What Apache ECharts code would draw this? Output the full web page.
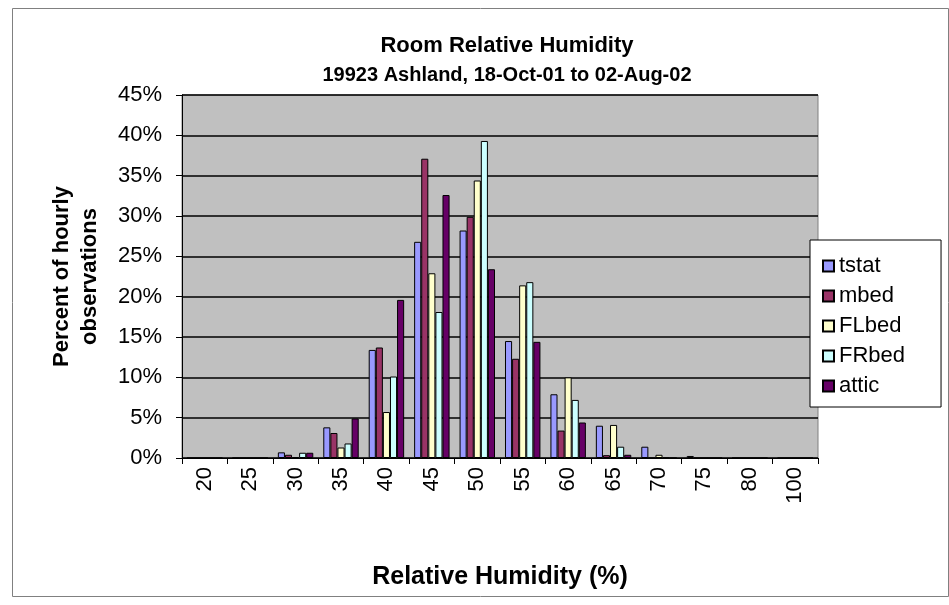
<!DOCTYPE html>
<html>
<head>
<meta charset="utf-8">
<script src="https://cdn.jsdelivr.net/npm/echarts@6/dist/echarts.min.js"></script>
<style>
html,body{margin:0;padding:0;background:#fff;}
#c{width:949px;height:605px;}
</style>
</head>
<body>
<div id="c"></div>
<script>
const categories = ['20','25','30','35','40','45','50','55','60','65','70','75','80','100'];
const tstat = [0,0,0.7,3.8,13.4,26.8,28.2,14.5,7.9,4.0,1.4,0.25,0,0];
const mbed  = [0,0,0.4,3.1,13.7,37.1,29.9,12.3,3.4,0.35,0,0,0,0];
const FLbed = [0,0,0.1,1.3,5.7,22.9,34.4,21.4,10.0,4.1,0.4,0,0,0];
const FRbed = [0,0,0.65,1.8,10.1,18.1,39.3,21.8,7.2,1.4,0.05,0,0,0];
const attic = [0,0,0.65,4.9,19.6,32.6,23.4,14.4,4.4,0.4,0,0,0,0];
const seriesNames = ['tstat','mbed','FLbed','FRbed','attic'];
const seriesData = [tstat, mbed, FLbed, FRbed, attic];
const colors = ['#9999FF','#993366','#FFFFCC','#CCFFFF','#660066'];

const FONT = 'Liberation Sans, Arial, sans-serif';
const chart = echarts.init(document.getElementById('c'), null, {renderer:'canvas'});
chart.setOption({
  animation:false,
  backgroundColor:'#ffffff',
  graphic:[{
    type:'rect', shape:{x:12.5,y:8.5,width:936,height:588},
    style:{fill:'none',stroke:'#808080',lineWidth:1}, z:-1
  }],
  title:{
    text:'Room Relative Humidity',
    subtext:'19923 Ashland, 18-Oct-01 to 02-Aug-02',
    left:502, top:30, textAlign:'center', itemGap:8,
    textStyle:{fontFamily:FONT,fontSize:22,fontWeight:'bold',color:'#000'},
    subtextStyle:{fontFamily:FONT,fontSize:20,fontWeight:'bold',color:'#000'}
  },
  legend:{
    orient:'vertical', left:810, top:240,
    padding:[15,36,10,12], itemGap:8,
    backgroundColor:'#fff', borderColor:'#000', borderWidth:1,
    itemWidth:11, itemHeight:11, icon:'rect',
    textStyle:{fontFamily:FONT,fontSize:22,lineHeight:22,color:'#000'},
    data:seriesNames
  },
  grid:{left:182,right:131,top:95,bottom:147,show:true,backgroundColor:'#C0C0C0',borderColor:'#808080',borderWidth:1},
  xAxis:{
    type:'category', data:categories,
    name:'Relative Humidity (%)', nameLocation:'middle', nameGap:107,
    nameTextStyle:{fontFamily:FONT,fontSize:25,fontWeight:'bold',color:'#000'},
    axisLine:{lineStyle:{color:'#000',width:1}},
    axisTick:{show:true,length:6,lineStyle:{color:'#000'},alignWithLabel:false},
    axisLabel:{rotate:90,fontFamily:FONT,fontSize:22,color:'#000',margin:9},
    splitLine:{show:false}
  },
  yAxis:{
    type:'value', min:0, max:45, interval:5,
    name:'Percent of hourly\nobservations', nameLocation:'middle', nameGap:78,
    nameTextStyle:{fontFamily:FONT,fontSize:22,fontWeight:'bold',color:'#000',lineHeight:28},
    axisLine:{show:true,lineStyle:{color:'#000',width:1}},
    axisTick:{show:true,length:6,lineStyle:{color:'#000'}},
    axisLabel:{fontFamily:FONT,fontSize:22,color:'#000',margin:20,formatter:v=>v+'%'},
    splitLine:{show:true,lineStyle:{color:'#000',width:1.5}}
  },
  series:seriesNames.map((n,i)=>({
    name:n, type:'bar', data:seriesData[i],
    barGap:'0%', barCategoryGap:'22%',
    itemStyle:{color:colors[i],borderColor:'#000',borderWidth:1}
  }))
});
</script>
</body>
</html>
